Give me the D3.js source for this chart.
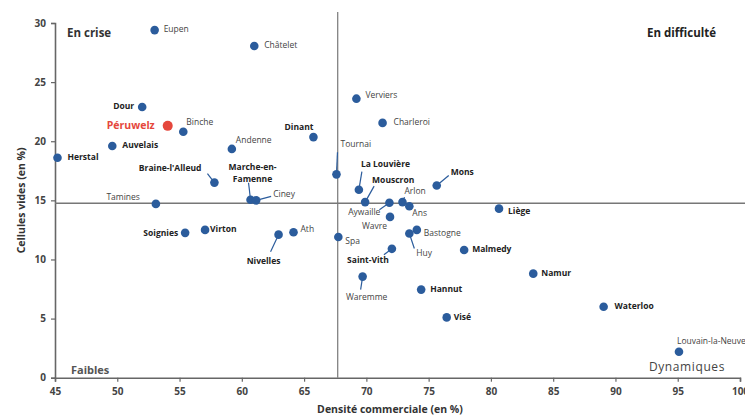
<!DOCTYPE html>
<html><head><meta charset="utf-8">
<script src="https://cdn.jsdelivr.net/npm/d3@7"></script>
<style>
body{margin:0;background:#fff;}
text{font-family:"Open Sans","DejaVu Sans",sans-serif;}
</style></head>
<body><svg id="c" width="745" height="415"></svg>
<script>
// ---- data ----
const communes = ["Eupen","Châtelet","Dour","Péruwelz","Binche","Verviers","Charleroi","Dinant","Andenne","Auvelais","Herstal","Braine-l'Alleud","Marche-en-Famenne","Ciney","Tamines","Soignies","Virton","Nivelles","Ath","Tournai","La Louvière","Mouscron","Aywaille","Arlon","Ans","Mons","Wavre","Bastogne","Huy","Spa","Saint-Vith","Malmedy","Liège","Namur","Waremme","Hannut","Visé","Waterloo","Louvain-la-Neuve"];
const densite = [53.0,61.0,52.0,54.05,55.3,69.2,71.3,65.75,59.2,49.6,45.2,57.8,60.7,61.15,53.1,55.45,57.05,62.95,64.15,67.6,69.4,69.9,71.85,72.9,73.45,75.65,71.9,74.05,73.45,67.75,72.05,77.85,80.65,83.4,69.7,74.4,76.45,89.05,95.1];
const cellulesVides = [29.4,28.05,22.9,21.3,20.8,23.6,21.55,20.35,19.35,19.6,18.6,16.5,15.05,15.0,14.7,12.25,12.5,12.1,12.3,17.2,15.9,14.85,14.8,14.85,14.5,16.25,13.6,12.5,12.2,11.9,10.9,10.8,14.3,8.8,8.55,7.45,5.1,6.0,2.2];
const highlight = "Péruwelz";
const xTicks = [45,50,55,60,65,70,75,80,85,90,95,100];
const yTicks = [0,5,10,15,20,25,30];
const refDensite = 67.7, refVides = 14.75;
const quadrants = ["En crise","En difficulté","Faibles","Dynamiques"];

// ---- label layout: [dx, dy, anchor, bold, leaderDx, leaderDy] ----
const layout = {
 "Eupen":[9,0,"start",0],"Châtelet":[10,0,"start",0],"Dour":[-8,0,"end",1],"Péruwelz":[-13,0,"end",1],
 "Binche":[3,-9,"start",0],"Verviers":[9,-3,"start",0],"Charleroi":[11,0,"start",0],"Dinant":[0,-9,"end",1],
 "Andenne":[4,-8,"start",0],"Auvelais":[10,0,"start",1],"Herstal":[10,0,"start",1],
 "Braine-l'Alleud":[-13,-14,"end",1,-7,-9],"Marche-en-Famenne":[2,-32,"middle",1,-2,-17],
 "Ciney":[17,-6,"start",0,15,-4],"Tamines":[-16,-6,"end",0],"Soignies":[-7,1,"end",1],"Virton":[5,0,"start",1],
 "Nivelles":[-15,27,"middle",1,-8,17],"Ath":[7,-3,"start",0],"Tournai":[4,-30,"start",0,1,-22],
 "La Louvière":[2,-25,"start",1,3,-18],"Mouscron":[7,-21,"start",1,9,-16],"Aywaille":[-9,10,"end",0,-10,7],
 "Arlon":[2,-10,"start",0,2,-5],"Ans":[3,7,"start",0],"Mons":[14,-13,"start",1,12,-10],"Wavre":[-3,10,"end",0],
 "Bastogne":[7,4,"start",0],"Huy":[7,20,"start",0,5,15],"Spa":[7,5,"start",0],"Saint-Vith":[-3,12,"end",1,-8,6],
 "Malmedy":[8,0,"start",1],"Liège":[9,3,"start",1],"Namur":[8,0,"start",1],"Waremme":[4,21,"middle",0,-2,13],
 "Hannut":[9,0,"start",1],"Visé":[7,0,"start",1],"Waterloo":[11,0,"start",1],"Louvain-la-Neuve":[-2,-10,"start",0]
};

const svg = d3.select("#c");
const W=745,H=415, m={l:55,r:5,t:23,b:37.3};
const x = d3.scaleLinear().domain([45,100]).range([m.l, W-m.r]);
const y = d3.scaleLinear().domain([0,30]).range([H-m.b, m.t]);
const axisCol="#666";

// axes
const gx = svg.append("g").attr("transform",`translate(0,${y(0)})`)
  .call(d3.axisBottom(x).tickValues(xTicks).tickSize(4).tickPadding(6));
const gy = svg.append("g").attr("transform",`translate(${x(45)},0)`)
  .call(d3.axisLeft(y).tickValues(yTicks).tickSize(4).tickPadding(5));
[gx,gy].forEach(g=>{
  g.select(".domain").attr("stroke",axisCol).attr("stroke-width",1.6);
  g.selectAll(".tick line").attr("stroke",axisCol).attr("stroke-width",1.2);
  g.selectAll(".tick text").attr("fill","#444").attr("font-size",10).attr("font-weight","bold")
   .style("font-family","'Open Sans',sans-serif");
});

// reference lines
svg.append("line").attr("x1",x(refDensite)).attr("x2",x(refDensite)).attr("y1",12).attr("y2",y(0))
  .attr("stroke","#777").attr("stroke-width",1.2);
svg.append("line").attr("x1",x(45)).attr("x2",W).attr("y1",y(refVides)).attr("y2",y(refVides))
  .attr("stroke","#777").attr("stroke-width",1.4);

// quadrant labels
svg.append("text").attr("x",67).attr("y",37).text(quadrants[0]).attr("font-size",11.5).attr("font-weight","bold").attr("fill","#333");
svg.append("text").attr("x",716).attr("y",37).attr("text-anchor","end").text(quadrants[1]).attr("font-size",11.5).attr("font-weight","bold").attr("fill","#222");
svg.append("text").attr("x",71).attr("y",374).text(quadrants[2]).attr("font-size",11).attr("font-weight","bold").attr("fill","#555");
svg.append("text").attr("x",725).attr("y",371).attr("text-anchor","end").text(quadrants[3]).attr("font-size",12).attr("fill","#444").attr("letter-spacing",0.6);

// axis titles
svg.append("text").attr("x",390).attr("y",413).attr("text-anchor","middle").text("Densité commerciale (en %)")
  .attr("font-size",10.5).attr("font-weight","bold").attr("fill","#333");
svg.append("text").attr("transform",`translate(25,${y(15)}) rotate(-90)`).attr("text-anchor","middle")
  .text("Cellules vides (en %)").attr("font-size",10.5).attr("font-weight","bold").attr("fill","#333");

const pts = communes.map((n,i)=>({n, x:densite[i], y:cellulesVides[i]}));

// leaders
pts.forEach(p=>{
  const L=layout[p.n];
  if(L.length>4){
    svg.append("line").attr("x1",x(p.x)).attr("y1",y(p.y)).attr("x2",x(p.x)+L[4]).attr("y2",y(p.y)+L[5])
      .attr("stroke","#2b5c9c").attr("stroke-width",1.2);
  }
});

// dots
svg.selectAll("circle.pt").data(pts).enter().append("circle")
  .attr("cx",d=>x(d.x)).attr("cy",d=>y(d.y))
  .attr("r",d=>d.n===highlight?5:4.3)
  .attr("fill",d=>d.n===highlight?"#e5473c":"#2b5c9c");

// labels
pts.forEach(p=>{
  const L=layout[p.n];
  const t = svg.append("text").attr("x",x(p.x)+L[0]).attr("y",y(p.y)+L[1])
    .attr("text-anchor",L[2]).attr("dominant-baseline","middle");
  if(p.n===highlight){
    t.text(p.n).attr("font-size",10.5).attr("font-weight","bold").attr("fill","#e5473c");
  } else {
    t.attr("font-size",8.5).attr("font-weight",L[3]?"bold":"normal").attr("fill",L[3]?"#222":"#444");
    if(p.n==="Marche-en-Famenne"){
      t.append("tspan").attr("x",x(p.x)+L[0]).text("Marche-en-");
      t.append("tspan").attr("x",x(p.x)+L[0]).attr("dy",12).text("Famenne");
    } else t.text(p.n);
  }
});
</script></body></html>
